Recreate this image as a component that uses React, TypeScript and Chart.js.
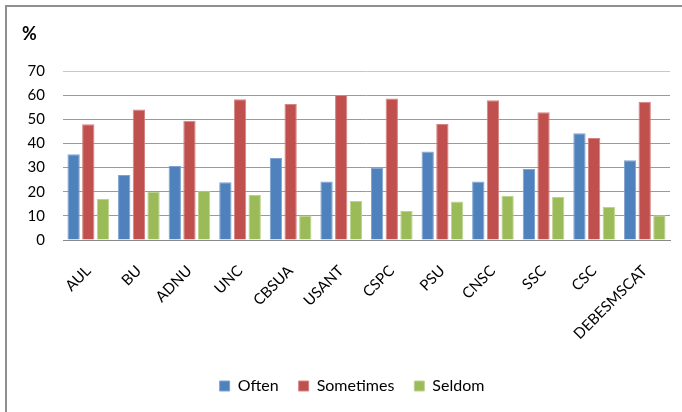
import React, { useEffect, useRef } from "react";
import { Chart, registerables } from "chart.js";

Chart.register(...registerables);

const categories = ["AUL", "BU", "ADNU", "UNC", "CBSUA", "USANT", "CSPC", "PSU", "CNSC", "SSC", "CSC", "DEBESMSCAT"];
const often = [35.5, 26.9, 30.6, 23.9, 34.0, 24.2, 30.0, 36.7, 24.2, 29.4, 44.2, 33.0];
const sometimes = [47.9, 54.1, 49.4, 58.3, 56.3, 60.1, 58.6, 48.0, 57.9, 52.9, 42.3, 57.3];
const seldom = [17.0, 19.9, 20.4, 18.6, 10.1, 16.2, 12.0, 15.9, 18.2, 17.8, 13.7, 10.2];
const yTicks = [0, 10, 20, 30, 40, 50, 60, 70];
const unitLabel = "%";

const FONT = "Lato, 'Open Sans', sans-serif";

const unitPlugin = {
  id: "unitLabel",
  afterLayout(chart: any) {
    if (chart.legend) {
      chart.legend.left += 14;
    }
  },
  afterDraw(chart: any) {
    const ctx = chart.ctx;
    ctx.save();
    ctx.font = `bold 18px ${FONT}`;
    ctx.fillStyle = "#000";
    ctx.textBaseline = "middle";
    ctx.textAlign = "left";
    ctx.fillText(unitLabel, 22, 34);
    ctx.restore();
  },
};

export default function App() {
  const ref = useRef<HTMLCanvasElement>(null);
  useEffect(() => {
    if (!ref.current) return;
    const chart = new Chart(ref.current, {
      type: "bar",
      data: {
        labels: categories,
        datasets: [
          { label: "Often", data: often, backgroundColor: "#4F81BD", borderColor: "#7FA3D0", borderWidth: 1 },
          { label: "Sometimes", data: sometimes, backgroundColor: "#C0504D", borderColor: "#D48483", borderWidth: 1 },
          { label: "Seldom", data: seldom, backgroundColor: "#9BBB59", borderColor: "#BCD38F", borderWidth: 1 },
        ],
      },
      plugins: [unitPlugin],
      options: {
        responsive: false,
        animation: false,
        events: [],
        datasets: { bar: { categoryPercentage: 0.87, barPercentage: 0.84 } },
        layout: { padding: { left: 20, right: 12, top: 71, bottom: 8 } },
        plugins: {
          title: { display: false },
          tooltip: { enabled: false },
          legend: {
            position: "bottom",
            labels: {
              boxWidth: 10,
              boxHeight: 10,
              padding: 20,
              color: "#000",
              font: { family: FONT, size: 16 },
            },
          },
        },
        scales: {
          x: {
            grid: { display: false, drawTicks: false },
            border: { display: true, color: "#888", width: 1 },
            ticks: {
              minRotation: 45,
              maxRotation: 45,
              autoSkip: false,
              padding: 22,
              color: "#000",
              font: { family: FONT, size: 15 },
            },
            afterFit: (s: any) => { s.height = 118; },
          },
          y: {
            min: 0,
            max: 70,
            afterBuildTicks: (s: any) => { s.ticks = yTicks.map((v) => ({ value: v })); },
            grid: {
              drawTicks: false,
              color: (c: any) => (c.tick && c.tick.value === 70 ? "#c8c8c8" : "#9a9a9a"),
              lineWidth: 1,
            },
            border: { display: false },
            ticks: {
              padding: 18,
              color: "#000",
              font: { family: FONT, size: 15 },
            },
            afterFit: (s: any) => { s.width = 43; },
          },
        },
      },
    });
    return () => chart.destroy();
  }, []);
  return (
    <div style={{ position: "absolute", left: 0, top: 0, width: 682, height: 412, overflow: "hidden", background: "#fff" }}>
      <div style={{ position: "absolute", left: 5, top: 5, width: 700, height: 450, borderLeft: "2px solid #8f8f8f", borderTop: "2px solid #8f8f8f" }} />
      <canvas ref={ref} width={682} height={412} style={{ position: "absolute", left: 0, top: 0 }} />
    </div>
  );
}
